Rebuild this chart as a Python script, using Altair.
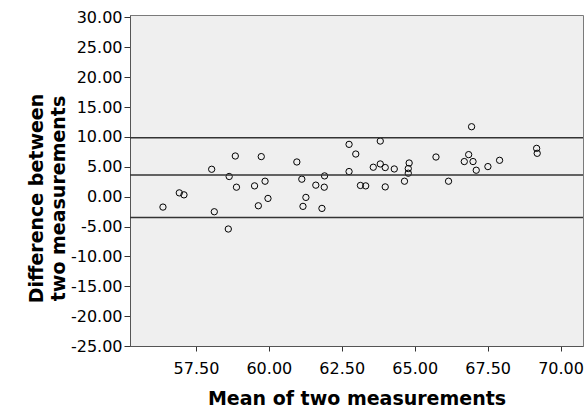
import altair as alt
import pandas as pd

mean_vals = [56.37, 56.93, 57.09, 58.04, 58.13, 58.61, 58.64, 58.85, 58.89, 59.51,
             59.64, 59.74, 59.87, 59.97, 60.96, 61.13, 61.27, 61.17, 61.61, 61.91,
             61.90, 61.82, 62.75, 62.98, 62.75, 63.14, 63.32, 63.82, 63.58, 63.82,
             63.99, 63.99, 64.30, 64.81, 64.78, 64.78, 64.65, 65.73, 66.16, 66.95,
             66.85, 66.70, 67.00, 67.11, 67.51, 67.91, 69.18, 69.20]
diff_vals = [-1.75, 0.63, 0.30, 4.58, -2.53, -5.42, 3.37, 6.80, 1.58, 1.80,
             -1.53, 6.70, 2.58, -0.30, 5.80, 2.92, -0.13, -1.63, 1.92, 3.47,
             1.58, -1.97, 8.75, 7.13, 4.20, 1.87, 1.80, 9.30, 4.92, 5.47,
             4.87, 1.63, 4.63, 5.63, 4.70, 3.92, 2.58, 6.63, 2.58, 11.70,
             7.03, 5.87, 5.87, 4.42, 5.03, 6.08, 8.08, 7.25]
limit_vals = [9.87, 3.63, -3.50]
x_ticks = [57.5, 60.0, 62.5, 65.0, 67.5, 70.0]
y_ticks = [-25, -20, -15, -10, -5, 0, 5, 10, 15, 20, 25, 30]

df = pd.DataFrame({"mean": mean_vals, "diff": diff_vals})
lines_df = pd.DataFrame({"diff": limit_vals})

FONT = "DejaVu Sans"

xscale = alt.Scale(domain=[55.24, 70.77], nice=False, zero=False)
yscale = alt.Scale(domain=[-25, 30.4], nice=False, zero=False)

yaxis = alt.Axis(
    values=y_ticks, title=["Difference between", "two measurements"],
    labelExpr="replace(format(datum.value, '.2f'), '\u2212', '-')",
    grid=False, tickSize=6, labelPadding=2,
    titleAngle=270, titleAlign="center", titleBaseline="top",
    titleX=-103, titleY=183, titleLineHeight=22, labelFlush=False, labelOverlap=False,
)

points = alt.Chart(df).mark_point(
    shape="circle", filled=False, color="black", size=40, strokeWidth=1, opacity=1
).encode(
    x=alt.X("mean:Q", scale=xscale, axis=alt.Axis(
        values=x_ticks, format=".2f", title="Mean of two measurements",
        grid=False, tickSize=5, labelPadding=22, labelBaseline="alphabetic",
        titleBaseline="alphabetic", titleY=58, labelFlush=False, labelOverlap=False,
    )),
    y=alt.Y("diff:Q", scale=yscale, axis=yaxis),
)

rules = alt.Chart(lines_df).mark_rule(color="#333333", strokeWidth=1.5).encode(
    y=alt.Y("diff:Q", scale=yscale, axis=yaxis)
)

chart = alt.layer(points, rules).properties(
    width=453, height=331,
    padding={"left": 130, "top": 15, "right": 4, "bottom": 61},
    autosize=alt.AutoSizeParams(type="none"),
    background="white",
).configure_view(
    fill="#EFEFEF", stroke="#7a7a7a", strokeWidth=1
).configure_axis(
    labelFont=FONT, labelFontSize=16, labelColor="black", labelOverlap=False,
    titleFont=FONT, titleFontSize=19, titleFontWeight="bold", titleColor="black",
    domainColor="#555555", tickColor="#333333", domainWidth=1, tickWidth=1,
)

chart.save("out.html", embed_options={"renderer": "svg", "actions": False})
